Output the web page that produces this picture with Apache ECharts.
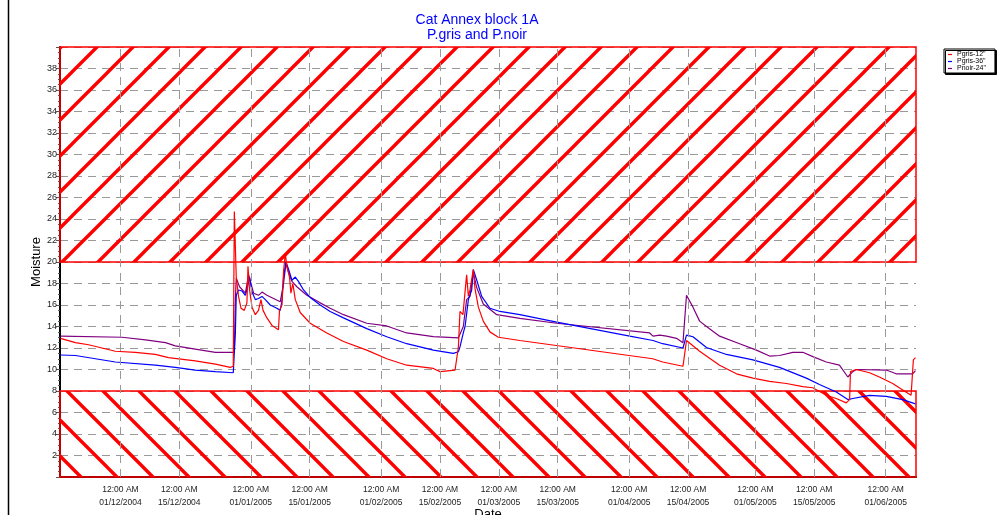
<!DOCTYPE html>
<html><head><meta charset="utf-8">
<script src="https://cdn.jsdelivr.net/npm/echarts@6/dist/echarts.min.js"></script>
<style>html,body{margin:0;padding:0;background:#fff;overflow:hidden}#c{width:1004px;height:515px}</style>
</head><body><div id="c"></div>
<script>
const titleLines = ['Cat Annex block 1A', 'P.gris and P.noir'];
const seriesNames = ['Pgris-12"', 'Pgris-36"', 'Pnoir-24"'];
const seriesColors = ['#ff0000', '#0000ff', '#800080'];
const xTickDates = ['2004-12-01','2004-12-15','2005-01-01','2005-01-15','2005-02-01','2005-02-15','2005-03-01','2005-03-15','2005-04-01','2005-04-15','2005-05-01','2005-05-15','2005-06-01'];
const xRange = ['2004-11-16 15:00', '2005-06-08 05:00'];
const yRange = [0, 40];
const zoneHigh = [20, 40];
const zoneLow = [0, 8];

const redTimes = ['2004-11-16 18:00','2004-11-20 07:00','2004-11-23 10:00','2004-11-29 19:00','2004-12-04 13:00','2004-12-09 07:00','2004-12-12 10:00','2004-12-18 19:00','2004-12-23 14:00','2004-12-27 03:00','2004-12-27 20:00','2004-12-28 02:00','2004-12-28 13:00','2004-12-29 02:00','2004-12-29 16:00','2004-12-30 11:00','2004-12-31 02:00','2004-12-31 08:00','2004-12-31 17:00','2005-01-01 07:00','2005-01-02 02:00','2005-01-02 20:00','2005-01-03 10:00','2005-01-03 22:00','2005-01-04 20:00','2005-01-06 01:00','2005-01-07 14:00','2005-01-07 20:00','2005-01-08 10:00','2005-01-08 19:00','2005-01-09 05:00','2005-01-09 14:00','2005-01-10 05:00','2005-01-10 13:00','2005-01-11 00:00','2005-01-11 14:00','2005-01-12 18:00','2005-01-15 03:00','2005-01-19 02:00','2005-01-23 01:00','2005-01-28 14:00','2005-02-02 08:00','2005-02-07 02:00','2005-02-13 10:00','2005-02-15 00:00','2005-02-18 14:00','2005-02-19 09:00','2005-02-19 18:00','2005-02-20 11:00','2005-02-21 08:00','2005-02-21 18:00','2005-02-22 03:00','2005-02-22 22:00','2005-02-23 08:00','2005-02-24 03:00','2005-02-25 07:00','2005-02-26 21:00','2005-02-28 21:00','2005-03-06 00:00','2005-04-06 14:00','2005-04-08 23:00','2005-04-13 19:00','2005-04-14 15:00','2005-04-17 18:00','2005-04-22 12:00','2005-04-26 12:00','2005-04-30 10:00','2005-05-04 09:00','2005-05-08 09:00','2005-05-12 07:00','2005-05-14 16:00','2005-05-17 21:00','2005-05-20 06:00','2005-05-22 15:00','2005-05-23 10:00','2005-05-23 15:00','2005-05-25 00:00','2005-05-28 04:00','2005-05-30 12:00','2005-06-02 16:00','2005-06-05 01:00','2005-06-07 01:00','2005-06-07 14:00','2005-06-08 02:00'];
const redValues = [12.9,12.5,12.3,11.7,11.6,11.4,11.1,10.8,10.5,10.2,10.3,24.7,18.6,16.8,15.7,15.5,16.2,19.6,17.4,15.8,15.1,15.5,16.5,15.5,14.8,14.1,13.7,15.5,16.0,19.1,20.8,19.6,18.6,17.1,18.0,16.5,15.3,14.3,13.4,12.6,11.8,11.0,10.4,10.1,9.8,9.95,12.1,15.4,15.1,18.8,16.8,17.4,19.3,17.5,15.8,14.5,13.5,13.0,12.7,11.0,10.7,10.3,12.7,11.7,10.4,9.6,9.2,8.9,8.7,8.4,8.3,7.6,7.3,6.9,7.2,9.8,10.0,9.7,9.3,8.7,8.1,7.6,10.9,11.1];

const blueTimes = ['2004-11-16 18:00','2004-11-20 07:00','2004-11-29 19:00','2004-12-09 07:00','2004-12-14 01:00','2004-12-18 19:00','2004-12-23 14:00','2004-12-27 20:00','2004-12-28 02:00','2004-12-28 08:00','2004-12-28 13:00','2004-12-29 02:00','2004-12-29 22:00','2004-12-30 17:00','2004-12-31 06:00','2004-12-31 17:00','2005-01-01 07:00','2005-01-02 02:00','2005-01-02 20:00','2005-01-03 16:00','2005-01-04 11:00','2005-01-05 15:00','2005-01-07 05:00','2005-01-08 00:00','2005-01-08 10:00','2005-01-08 19:00','2005-01-09 09:00','2005-01-10 00:00','2005-01-10 19:00','2005-01-11 14:00','2005-01-12 08:00','2005-01-13 13:00','2005-01-15 03:00','2005-01-17 12:00','2005-01-19 21:00','2005-01-23 01:00','2005-01-28 14:00','2005-02-02 08:00','2005-02-07 02:00','2005-02-13 10:00','2005-02-18 04:00','2005-02-19 09:00','2005-02-19 18:00','2005-02-20 13:00','2005-02-20 23:00','2005-02-21 18:00','2005-02-22 13:00','2005-02-22 22:00','2005-02-23 18:00','2005-02-24 22:00','2005-02-26 21:00','2005-03-01 06:00','2005-03-06 00:00','2005-03-14 18:00','2005-04-01 03:00','2005-04-06 16:00','2005-04-08 23:00','2005-04-13 19:00','2005-04-14 15:00','2005-04-16 04:00','2005-04-19 09:00','2005-04-24 03:00','2005-04-30 10:00','2005-05-06 18:00','2005-05-13 03:00','2005-05-16 06:00','2005-05-20 06:00','2005-05-23 00:00','2005-05-24 04:00','2005-05-28 04:00','2005-06-01 03:00','2005-06-05 01:00','2005-06-08 02:00'];
const blueValues = [11.35,11.3,10.7,10.4,10.2,9.95,9.8,9.7,9.6,13.4,16.9,17.4,17.3,16.9,17.7,18.6,17.2,16.5,16.6,16.8,16.5,16.0,15.7,15.5,16.4,18.6,20.0,19.3,18.3,18.6,18.2,17.4,16.7,16.0,15.4,14.8,13.8,13.05,12.4,11.8,11.5,11.65,12.1,13.4,14.0,16.5,17.4,19.3,18.3,16.8,15.7,15.4,15.1,14.4,13.1,12.7,12.4,12.0,13.2,13.05,12.05,11.4,10.9,10.2,9.2,8.6,7.9,7.2,7.3,7.6,7.5,7.2,6.8];

const purpleTimes = ['2004-11-16 18:00','2004-12-01 10:00','2004-12-06 23:00','2004-12-11 17:00','2004-12-14 01:00','2004-12-18 19:00','2004-12-23 14:00','2004-12-28 02:00','2004-12-28 08:00','2004-12-28 13:00','2004-12-29 08:00','2004-12-30 17:00','2004-12-31 12:00','2005-01-01 01:00','2005-01-01 16:00','2005-01-02 20:00','2005-01-03 16:00','2005-01-04 20:00','2005-01-06 10:00','2005-01-08 00:00','2005-01-08 19:00','2005-01-09 09:00','2005-01-10 00:00','2005-01-10 19:00','2005-01-11 23:00','2005-01-14 08:00','2005-01-17 12:00','2005-01-19 21:00','2005-01-23 01:00','2005-01-28 14:00','2005-02-02 08:00','2005-02-07 02:00','2005-02-13 10:00','2005-02-19 09:00','2005-02-20 13:00','2005-02-21 08:00','2005-02-22 03:00','2005-02-22 22:00','2005-02-23 18:00','2005-02-25 07:00','2005-02-28 12:00','2005-03-06 00:00','2005-03-14 18:00','2005-04-05 21:00','2005-04-06 16:00','2005-04-08 06:00','2005-04-09 21:00','2005-04-12 06:00','2005-04-13 19:00','2005-04-14 15:00','2005-04-16 04:00','2005-04-17 18:00','2005-04-19 09:00','2005-04-22 12:00','2005-04-27 06:00','2005-05-01 06:00','2005-05-04 09:00','2005-05-06 18:00','2005-05-09 22:00','2005-05-12 07:00','2005-05-14 16:00','2005-05-17 21:00','2005-05-21 00:00','2005-05-23 00:00','2005-05-24 04:00','2005-05-25 00:00','2005-06-01 03:00','2005-06-03 12:00','2005-06-07 10:00','2005-06-08 02:00'];
const purpleValues = [13.1,13.0,12.75,12.5,12.2,11.9,11.6,11.6,16.5,18.5,17.7,17.1,18.8,18.0,17.1,16.9,17.2,16.9,16.6,16.3,18.0,19.9,19.0,18.2,17.7,16.9,16.2,15.7,15.1,14.3,14.05,13.4,13.05,12.95,14.0,16.5,16.8,19.0,17.6,16.1,15.1,14.75,14.3,13.4,13.1,13.2,13.1,12.9,12.5,16.9,15.8,14.5,14.0,13.1,12.4,11.8,11.25,11.3,11.6,11.6,11.2,10.7,10.4,9.3,9.8,10.0,9.95,9.6,9.6,9.9];

function ts(s) {
  const parts = s.split(' ');
  const d = parts[0].split('-').map(Number);
  const t = (parts[1] || '00:00').split(':').map(Number);
  return new Date(d[0], d[1] - 1, d[2], t[0], t[1]).getTime();
}
function pairs(times, vals) { return times.map((t, i) => [ts(t), vals[i]]); }
function pad(n) { return (n < 10 ? '0' : '') + n; }

function hatch(dir) {
  const s = 36;
  const c = document.createElement('canvas');
  c.width = s; c.height = s;
  const g = c.getContext('2d');
  g.strokeStyle = '#ff0000';
  g.lineWidth = 3.4;
  g.beginPath();
  if (dir === '/') {
    g.moveTo(-6, s + 6); g.lineTo(s + 6, -6);
    g.moveTo(-6, 6); g.lineTo(6, -6);
    g.moveTo(s - 6, s + 6); g.lineTo(s + 6, s - 6);
  } else {
    g.moveTo(-6, -6); g.lineTo(s + 6, s + 6);
    g.moveTo(s - 6, -6); g.lineTo(s + 6, 6);
    g.moveTo(-6, s - 6); g.lineTo(6, s + 6);
  }
  g.stroke();
  return c;
}

const chart = echarts.init(document.getElementById('c'), null, {renderer: 'canvas', width: 1004, height: 515});
const tickVals = xTickDates.map(ts);
const dataSets = [pairs(redTimes, redValues), pairs(blueTimes, blueValues), pairs(purpleTimes, purpleValues)];

const zoneStyle = (dir) => ({color: {image: hatch(dir), repeat: 'repeat'}, borderColor: '#ff0000', borderWidth: 1.5});

const seriesOrder = [2, 1, 0];
const series = seriesOrder.map((k, idx) => {
  const s = {
    name: seriesNames[k], type: 'line', data: dataSets[k], showSymbol: false, symbol: 'none',
    lineStyle: {color: seriesColors[k], width: 1.2}, itemStyle: {color: seriesColors[k]},
    animation: false, silent: true
  };
  if (idx === 0) {
    s.markArea = {
      silent: true, label: {show: false},
      data: [
        [{yAxis: zoneHigh[0], itemStyle: zoneStyle('/')}, {yAxis: zoneHigh[1]}],
        [{yAxis: zoneLow[0], itemStyle: zoneStyle('\\')}, {yAxis: zoneLow[1]}]
      ]
    };
    s.markLine = {
      silent: true, symbol: 'none', label: {show: false},
      lineStyle: {color: '#999', type: [8, 6], width: 1},
      data: tickVals.map(v => ({xAxis: v}))
    };
  }
  return s;
});

chart.setOption({
  animation: false,
  backgroundColor: '#ffffff',
  textStyle: {fontFamily: 'Liberation Sans, Arial, sans-serif'},
  title: {
    text: titleLines.join('\n'), left: 472, top: 8, textAlign: 'center',
    textStyle: {color: '#0000ff', fontSize: 14, fontWeight: 'normal', lineHeight: 15, fontFamily: 'Liberation Sans, Arial, sans-serif'}
  },
  legend: {
    data: seriesNames, orient: 'vertical', left: 944, top: 49, itemGap: 0,
    icon: 'rect', itemWidth: 4, itemHeight: 1.2,
    textStyle: {fontSize: 7, lineHeight: 6.5, color: '#000'},
    padding: [2, 9, 1, 4], borderColor: '#000', borderWidth: 1, backgroundColor: '#fff',
    shadowColor: '#000', shadowOffsetX: 1.5, shadowOffsetY: 1.5, shadowBlur: 0,
    selectedMode: false
  },
  grid: {left: 60, right: 88, top: 47, bottom: 38, containLabel: false, outerBoundsMode: 'none'},
  xAxis: {
    type: 'value', min: ts(xRange[0]), max: ts(xRange[1]),
    name: 'Date', nameLocation: 'middle', nameGap: 31, nameMoveOverlap: false,
    nameTextStyle: {fontSize: 13, color: '#000', verticalAlign: 'top'},
    axisLine: {show: true, onZero: false, lineStyle: {color: '#000', width: 2}},
    axisTick: {show: false, customValues: tickVals},
    axisLabel: {
      customValues: tickVals, fontSize: 8.5, color: '#222', lineHeight: 13, margin: 6,
      formatter: (v) => { const d = new Date(v); return '12:00 AM\n' + pad(d.getDate()) + '/' + pad(d.getMonth() + 1) + '/' + d.getFullYear(); }
    },
    splitLine: {show: false}
  },
  yAxis: {
    type: 'value', min: yRange[0], max: yRange[1], interval: 2,
    name: 'Moisture', nameLocation: 'middle', nameGap: 17, nameMoveOverlap: false,
    nameTextStyle: {fontSize: 13, color: '#000'},
    axisLine: {show: true, lineStyle: {color: '#000', width: 2}},
    axisTick: {show: true, length: 4, lineStyle: {color: '#555'}},
    minorTick: {show: true, splitNumber: 4, length: 2, lineStyle: {color: '#555'}},
    axisLabel: {fontSize: 9, color: '#222', margin: 3, formatter: (v) => (v === yRange[0] || v === yRange[1]) ? '' : String(v)},
    splitLine: {show: true, lineStyle: {color: '#999', type: [8, 6], width: 1}}
  },
  graphic: [{type: 'line', shape: {x1: 8.5, y1: 0, x2: 8.5, y2: 515}, style: {stroke: '#000', lineWidth: 1.5}, silent: true}],
  series: series
});
</script></body></html>
